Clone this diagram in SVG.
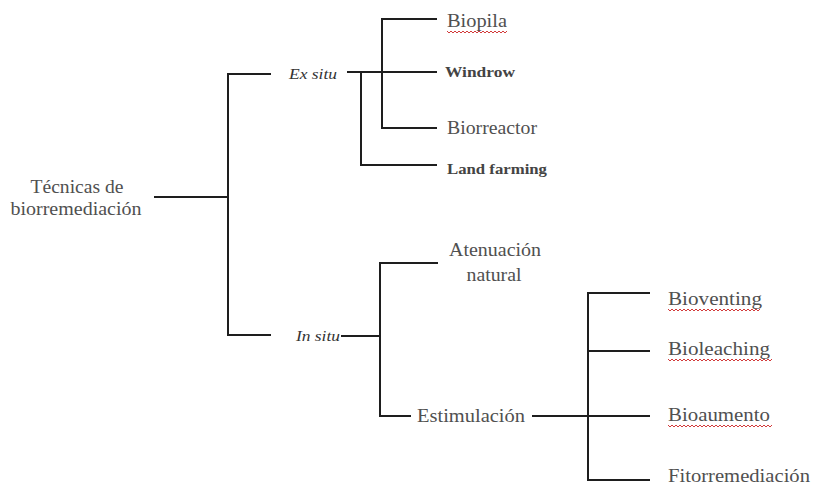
<svg xmlns="http://www.w3.org/2000/svg" width="816" height="486" viewBox="0 0 816 486">
<style>
.t{font-family:"Liberation Serif","Times New Roman",serif;font-size:19px;fill:#505050}
.i{font-family:"Liberation Serif","Times New Roman",serif;font-size:15px;font-style:italic;fill:#333}
.b{font-family:"Liberation Serif","Times New Roman",serif;font-size:15px;font-weight:bold;fill:#444}
.c{fill:none;stroke:#1e1e1e;stroke-width:2}
.w{fill:none;stroke:#d23a3a;stroke-width:1}
</style>
<rect width="816" height="486" fill="#fff"/>
<g id="connectors">
<path class="c" d="M154,197H228M271,74H228V335H271"/>
<path class="c" d="M347,72H437M361,72V165H437M437,19H382V128H437"/>
<path class="c" d="M341,336H380M438,263H380V416H411M532,416H650M650,293H588V480H650M588,351H650"/>
</g>
<g id="root"><text class="t" x="77" y="193" text-anchor="middle" textLength="93" lengthAdjust="spacingAndGlyphs">Técnicas de</text><text class="t" x="76" y="215" text-anchor="middle" textLength="131" lengthAdjust="spacingAndGlyphs">biorremediación</text></g>
<g id="exsitu"><text class="i" x="289" y="79" textLength="48" lengthAdjust="spacingAndGlyphs">Ex situ</text></g>
<g id="biopila"><text class="t" x="447" y="27" textLength="60" lengthAdjust="spacingAndGlyphs">Biopila</text><path class="w" d="M447,31l2,2l2,-2l2,2l2,-2l2,2l2,-2l2,2l2,-2l2,2l2,-2l2,2l2,-2l2,2l2,-2l2,2l2,-2l2,2l2,-2l2,2l2,-2l2,2l2,-2l2,2l2,-2l2,2l2,-2l2,2l2,-2l2,2l2,-2"/></g>
<g id="windrow"><text class="b" x="445" y="77" textLength="70" lengthAdjust="spacingAndGlyphs">Windrow</text></g>
<g id="biorreactor"><text class="t" x="447" y="134" textLength="90" lengthAdjust="spacingAndGlyphs">Biorreactor</text></g>
<g id="landfarming"><text class="b" x="447" y="174" textLength="100" lengthAdjust="spacingAndGlyphs">Land farming</text></g>
<g id="insitu"><text class="i" x="296" y="341" textLength="44" lengthAdjust="spacingAndGlyphs">In situ</text></g>
<g id="atenuacion"><text class="t" x="495" y="256" text-anchor="middle" textLength="92" lengthAdjust="spacingAndGlyphs">Atenuación</text><text class="t" x="494" y="281" text-anchor="middle" textLength="55" lengthAdjust="spacingAndGlyphs">natural</text></g>
<g id="estimulacion"><text class="t" x="417" y="422" textLength="108" lengthAdjust="spacingAndGlyphs">Estimulación</text></g>
<g id="bioventing"><text class="t" x="668" y="305" textLength="94" lengthAdjust="spacingAndGlyphs">Bioventing</text><path class="w" d="M668,309l2,2l2,-2l2,2l2,-2l2,2l2,-2l2,2l2,-2l2,2l2,-2l2,2l2,-2l2,2l2,-2l2,2l2,-2l2,2l2,-2l2,2l2,-2l2,2l2,-2l2,2l2,-2l2,2l2,-2l2,2l2,-2l2,2l2,-2l2,2l2,-2l2,2l2,-2l2,2l2,-2l2,2l2,-2l2,2l2,-2l2,2l2,-2l2,2l2,-2l2,2l2,-2"/></g>
<g id="bioleaching"><text class="t" x="668" y="355" textLength="102" lengthAdjust="spacingAndGlyphs">Bioleaching</text><path class="w" d="M668,359l2,2l2,-2l2,2l2,-2l2,2l2,-2l2,2l2,-2l2,2l2,-2l2,2l2,-2l2,2l2,-2l2,2l2,-2l2,2l2,-2l2,2l2,-2l2,2l2,-2l2,2l2,-2l2,2l2,-2l2,2l2,-2l2,2l2,-2l2,2l2,-2l2,2l2,-2l2,2l2,-2l2,2l2,-2l2,2l2,-2l2,2l2,-2l2,2l2,-2l2,2l2,-2l2,2l2,-2l2,2l2,-2l2,2l2,-2"/></g>
<g id="bioaumento"><text class="t" x="668" y="421" textLength="102" lengthAdjust="spacingAndGlyphs">Bioaumento</text><path class="w" d="M668,425l2,2l2,-2l2,2l2,-2l2,2l2,-2l2,2l2,-2l2,2l2,-2l2,2l2,-2l2,2l2,-2l2,2l2,-2l2,2l2,-2l2,2l2,-2l2,2l2,-2l2,2l2,-2l2,2l2,-2l2,2l2,-2l2,2l2,-2l2,2l2,-2l2,2l2,-2l2,2l2,-2l2,2l2,-2l2,2l2,-2l2,2l2,-2l2,2l2,-2l2,2l2,-2l2,2l2,-2l2,2l2,-2l2,2l2,-2"/></g>
<g id="fitorremediacion"><text class="t" x="668" y="482" textLength="142" lengthAdjust="spacingAndGlyphs">Fitorremediación</text></g>
</svg>
